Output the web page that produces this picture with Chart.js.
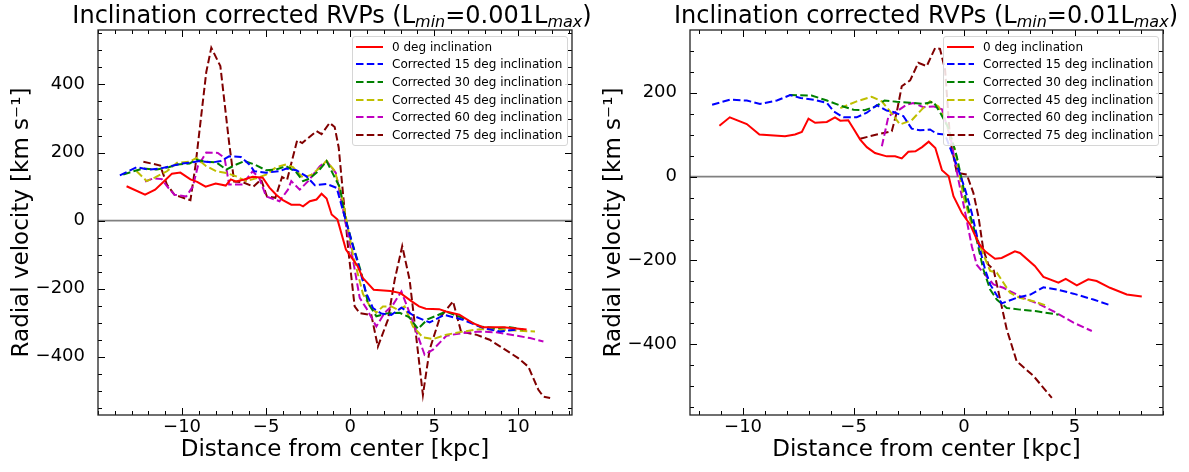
<!DOCTYPE html>
<html>
<head>
<meta charset="utf-8">
<script src="https://cdn.jsdelivr.net/npm/chart.js@4.4.1/dist/chart.umd.min.js"></script>
<style>
    body { margin: 0; width: 1189px; height: 472px; background: #fff; overflow: hidden; font-family: 'DejaVu Sans', sans-serif; color: #000; }
    .panel { position: absolute; top: 0; }
    .title { position: absolute; top: 1px; font-size: 24px; white-space: nowrap; transform: translateX(-50%); line-height: 28px; }
    .title sub { font-style: italic; font-size: 16px; vertical-align: -4px; line-height: 0; }
    .legend { position: absolute; top: 36px; border: 1px solid #d6d6d6; border-radius: 3px; background: rgba(255,255,255,0.85); padding: 1px 5px 1px 3px; font-size: 12px; }
    .legend .row { display: flex; align-items: center; height: 17.6px; white-space: nowrap; }
    .legend svg { margin-right: 9px; flex: none; }
</style>
</head>
<body>
<div class="panel" style="left:0; width:590px; height:472px;"><canvas id="leftChart" width="590" height="472"></canvas></div>
<div class="panel" style="left:592px; width:597px; height:472px;"><canvas id="rightChart" width="597" height="472"></canvas></div>
<div class="title" style="left:332px;">Inclination corrected RVPs (L<sub>min</sub>=0.001L<sub>max</sub>)</div>
<div class="title" style="left:926px;">Inclination corrected RVPs (L<sub>min</sub>=0.01L<sub>max</sub>)</div>
<div class="legend" id="leftLegend" style="left:352px;"></div>
<div class="legend" id="rightLegend" style="left:943px;"></div>

<script>
// Series labels and colours (same for both panels)
const seriesLabels = ['0 deg inclination', 'Corrected 15 deg inclination', 'Corrected 30 deg inclination',
    'Corrected 45 deg inclination', 'Corrected 60 deg inclination', 'Corrected 75 deg inclination'];
const seriesColors = ['#ff0000', '#0000ff', '#008000', '#bfbf00', '#bf00bf', '#800000'];
const seriesDashed = [false, true, true, true, true, true];

// Left panel (Lmin = 0.001 Lmax): [distance kpc, velocity km/s]
const left00 = [[-13.3,101],[-12.2,76],[-11.6,91],[-11.1,114],[-10.6,138],[-10.1,141],[-9.5,121],[-9.1,114],[-8.6,100],[-8.0,109],[-7.4,103],[-7.1,121],[-6.8,115],[-6.3,121],[-5.8,129],[-5.2,126],[-4.8,97],[-4.4,76],[-4.0,60],[-3.5,47],[-3.0,47],[-2.8,42],[-2.4,57],[-2.0,62],[-1.7,79],[-1.4,65],[-1.1,18],[-0.75,3],[-0.25,-85],[0.45,-134],[0.75,-168],[1.4,-203],[2.4,-207],[3.0,-213],[3.6,-235],[4.1,-252],[4.5,-259],[5.3,-260],[5.7,-267],[6.5,-276],[7.3,-301],[7.9,-313],[9.1,-313],[10.5,-320]];
const left15 = [[-13.7,133],[-12.7,157],[-12.0,150],[-11.3,153],[-10.7,160],[-10.1,167],[-9.55,170],[-8.96,175],[-8.2,171],[-7.7,175],[-7.2,189],[-6.5,187],[-6.0,165],[-5.7,145],[-5.0,141],[-4.2,145],[-3.8,153],[-3.2,148],[-2.6,130],[-2.1,104],[-1.4,108],[-0.8,96],[-0.33,13],[0.17,-75],[0.57,-144],[0.96,-213],[1.36,-257],[1.86,-273],[2.45,-277],[3.05,-256],[3.84,-281],[4.73,-299],[5.6,-277],[6.7,-291],[7.9,-315],[8.9,-326],[9.9,-320]];
const left30 = [[-13.5,135],[-12.9,145],[-12.3,153],[-11.5,150],[-10.8,157],[-10.25,165],[-9.55,168],[-9.15,179],[-8.56,173],[-7.96,171],[-7.37,150],[-6.77,165],[-6.28,175],[-5.7,165],[-5.0,148],[-4.4,150],[-3.8,160],[-3.2,142],[-2.8,116],[-2.4,124],[-1.9,145],[-1.4,175],[-1.0,135],[-0.6,97],[-0.35,20],[0.07,-56],[0.67,-154],[1.06,-242],[1.56,-281],[2.15,-273],[2.95,-271],[3.5,-283],[4.04,-318],[4.6,-290],[5.2,-278],[5.7,-267],[6.7,-286],[7.7,-311],[8.7,-316],[9.5,-313],[10.3,-320]];
const left45 = [[-12.7,145],[-12.1,116],[-11.6,127],[-10.9,145],[-10.3,170],[-9.55,173],[-9.15,184],[-8.56,160],[-7.96,145],[-7.37,140],[-6.77,130],[-6.18,116],[-5.5,126],[-5.0,135],[-4.4,157],[-3.8,165],[-3.4,157],[-2.8,126],[-2.3,135],[-1.8,155],[-1.4,176],[-0.9,145],[-0.43,57],[0.17,-100],[0.76,-215],[1.16,-250],[1.56,-270],[1.95,-252],[2.45,-252],[2.85,-262],[3.24,-252],[3.74,-311],[4.33,-343],[4.93,-348],[5.73,-335],[6.71,-326],[7.7,-319],[8.7,-320],[9.9,-323],[11.0,-326]];
const left60 = [[-12.2,115],[-11.7,124],[-11.2,122],[-10.9,101],[-10.45,76],[-9.75,71],[-9.35,101],[-9.06,160],[-8.56,200],[-7.87,199],[-7.47,184],[-7.2,106],[-6.4,106],[-5.8,145],[-5.4,125],[-5.0,71],[-4.2,57],[-3.7,91],[-3.5,116],[-3.0,91],[-2.5,116],[-1.8,160],[-1.4,175],[-0.85,140],[-0.45,40],[0.17,-115],[0.57,-227],[0.96,-257],[1.56,-311],[2.05,-271],[2.55,-247],[3.05,-208],[3.54,-271],[4.04,-340],[4.43,-394],[4.93,-379],[5.73,-338],[6.71,-330],[7.7,-326],[8.7,-328],[9.9,-338],[10.7,-345],[11.5,-355]];
const left75 = [[-12.3,173],[-11.3,162],[-10.9,106],[-10.45,76],[-10.05,69],[-9.5,60],[-9.2,162],[-8.56,436],[-8.26,508],[-7.72,454],[-7.2,229],[-6.9,115],[-6.4,113],[-5.75,100],[-5.3,121],[-4.95,71],[-4.45,67],[-4.05,128],[-3.75,120],[-3.15,236],[-2.85,228],[-2.0,263],[-1.7,254],[-1.22,287],[-0.92,275],[-0.68,215],[-0.33,30],[-0.1,-90],[0.27,-252],[0.57,-272],[1.26,-277],[1.65,-370],[2.25,-291],[2.65,-174],[3.1,-75],[3.54,-174],[4.33,-512],[4.73,-379],[5.33,-286],[6.12,-237],[6.6,-326],[7.5,-335],[8.3,-350],[9.1,-375],[10.0,-404],[10.6,-429],[11.2,-497],[11.5,-517],[11.9,-521]];

// Right panel (Lmin = 0.01 Lmax)
const right00 = [[-11.07,121],[-10.6,141],[-9.83,125],[-9.26,100],[-8.1,96],[-7.65,100],[-7.34,106],[-7.04,138],[-6.74,128],[-6.21,130],[-5.84,141],[-5.6,133],[-5.24,134],[-5.0,114],[-4.7,88],[-4.4,70],[-4.03,56],[-3.5,48],[-3.12,48],[-2.82,43],[-2.52,59],[-2.2,60],[-1.9,70],[-1.6,83],[-1.3,68],[-1.0,15],[-0.7,1],[-0.48,-47],[-0.1,-87],[0.27,-114],[0.65,-158],[0.95,-178],[1.4,-196],[1.7,-194],[2.3,-178],[2.53,-182],[3.2,-213],[3.59,-239],[4.27,-253],[4.6,-244],[5.1,-259],[5.62,-245],[6.0,-249],[6.6,-265],[7.36,-281],[8.04,-286]];
const right15 = [[-11.4,171],[-10.6,183],[-9.83,181],[-9.23,173],[-8.47,181],[-7.87,194],[-7.4,187],[-6.8,183],[-6.2,175],[-5.9,155],[-5.46,141],[-4.86,141],[-4.4,152],[-3.95,170],[-3.5,157],[-3.2,154],[-2.75,144],[-2.37,114],[-2.0,110],[-1.54,112],[-1.24,102],[-0.86,100],[-0.26,17],[0.05,-31],[0.35,-87],[0.72,-174],[0.95,-221],[1.18,-257],[1.7,-302],[2.38,-289],[3.0,-281],[3.59,-264],[4.19,-269],[4.95,-279],[5.85,-293],[6.53,-305]];
const right30 = [[-7.9,194],[-6.9,193],[-6.2,181],[-5.6,169],[-5.0,159],[-4.5,158],[-4.0,167],[-3.6,181],[-3.05,178],[-2.44,176],[-1.88,173],[-1.39,178],[-1.09,153],[-0.71,116],[-0.33,48],[0.12,-63],[0.5,-134],[0.87,-221],[1.18,-269],[1.48,-293],[1.93,-313],[2.53,-317],[3.29,-321],[4.27,-329]];
const right45 = [[-5.6,163],[-4.86,179],[-4.18,190],[-3.72,179],[-3.35,155],[-2.9,124],[-2.37,134],[-1.91,160],[-1.54,179],[-1.16,167],[-0.78,124],[-0.41,64],[-0.03,-47],[0.27,-102],[0.72,-166],[1.18,-225],[1.48,-229],[2.08,-277],[2.53,-289],[3.14,-297],[3.81,-309]];
const right60 = [[-3.72,72],[-3.42,144],[-3.05,155],[-2.6,171],[-2.3,175],[-1.84,165],[-1.39,167],[-1.0,160],[-0.6,90],[-0.26,-7],[0.05,-86],[0.35,-166],[0.57,-210],[0.87,-229],[1.33,-257],[1.78,-265],[2.68,-289],[3.44,-305],[4.19,-325],[4.95,-348],[5.78,-368]];
const right75 = [[-4.7,90],[-3.95,100],[-3.27,108],[-3.05,152],[-2.82,215],[-2.44,229],[-2.07,271],[-1.69,263],[-1.31,306],[-1.09,304],[-0.86,255],[-0.63,88],[-0.33,9],[0.12,5],[0.42,-39],[0.65,-95],[0.87,-174],[1.1,-210],[1.33,-221],[1.55,-273],[1.93,-364],[2.38,-440],[3.14,-475],[3.97,-527]];

// Axis ranges and tick labels
const leftXRange = [-15.0, 13.2];
const leftYRange = [-571, 560];
const leftXTicks = [-10, -5, 0, 5, 10];
const leftYTicks = [-400, -200, 0, 200, 400];
const rightXRange = [-12.4, 9.0];
const rightYRange = [-568, 349];
const rightXTicks = [-10, -5, 0, 5];
const rightYTicks = [-400, -200, 0, 200];

const xTitle = 'Distance from center [kpc]';
const yTitle = 'Radial velocity [km s\u207B\u00B9]';

document.addEventListener('DOMContentLoaded', () => {
    buildLegend('leftLegend');
    buildLegend('rightLegend');

    makeChart('leftChart', [left00, left15, left30, left45, left60, left75],
        leftXRange, leftYRange, leftXTicks, leftYTicks, 18);
    makeChart('rightChart', [right00, right15, right30, right45, right60, right75],
        rightXRange, rightYRange, rightXTicks, rightYTicks, 26);
});

function formatTick(v) {
    return v < 0 ? '\u2212' + Math.abs(v) : String(v);
}

function buildLegend(id) {
    const box = document.getElementById(id);
    seriesLabels.forEach((label, i) => {
        const row = document.createElement('div');
        row.className = 'row';
        const dash = seriesDashed[i] ? 'stroke-dasharray="7.5 3.3"' : '';
        row.innerHTML = `<svg width="27" height="6"><line x1="0" y1="3" x2="27" y2="3" stroke="${seriesColors[i]}" stroke-width="2" ${dash}/></svg><span>${label}</span>`;
        box.appendChild(row);
    });
}

// zero line, frame and inward ticks on all four sides
const axesFrame = {
    id: 'axesFrame',
    beforeDatasetsDraw(chart) {
        const { ctx, chartArea: a, scales: { y } } = chart;
        const y0 = y.getPixelForValue(0);
        ctx.save();
        ctx.strokeStyle = '#808080';
        ctx.lineWidth = 1.8;
        ctx.beginPath();
        ctx.moveTo(a.left, y0);
        ctx.lineTo(a.right, y0);
        ctx.stroke();
        ctx.restore();
    },
    afterDatasetsDraw(chart, args, opts) {
        const { ctx, chartArea: a, scales: { x, y } } = chart;
        ctx.save();
        ctx.strokeStyle = '#000';
        ctx.lineWidth = 1;
        ctx.beginPath();

        const minorVals = (scale, step) => {
            const out = [];
            for (let v = Math.ceil(scale.min / step) * step; v <= scale.max; v += step) out.push(v);
            return out;
        };
        const majorX = x.ticks.map(t => t.value);
        const majorY = y.ticks.map(t => t.value);

        minorVals(x, opts.xMinor).forEach(v => {
            const len = majorX.includes(v) ? 7 : 4;
            const px = Math.round(x.getPixelForValue(v)) + 0.5;
            ctx.moveTo(px, a.bottom); ctx.lineTo(px, a.bottom - len);
            ctx.moveTo(px, a.top); ctx.lineTo(px, a.top + len);
        });
        minorVals(y, opts.yMinor).forEach(v => {
            const len = majorY.includes(v) ? 7 : 4;
            const py = Math.round(y.getPixelForValue(v)) + 0.5;
            ctx.moveTo(a.left, py); ctx.lineTo(a.left + len, py);
            ctx.moveTo(a.right, py); ctx.lineTo(a.right - len, py);
        });
        ctx.stroke();

        ctx.strokeStyle = '#222';
        ctx.lineWidth = 1.3;
        ctx.strokeRect(a.left, a.top, a.right - a.left, a.bottom - a.top);
        ctx.restore();
    }
};

function makeChart(canvasId, series, xRange, yRange, xTicks, yTicks, padRight) {
    const ctx = document.getElementById(canvasId).getContext('2d');
    const datasets = series.map((pts, i) => ({
        label: seriesLabels[i],
        data: pts.map(([x, y]) => ({ x, y })),
        showLine: true,
        borderColor: seriesColors[i],
        borderWidth: 2,
        borderDash: seriesDashed[i] ? [7.5, 3.3] : [],
        pointRadius: 0,
        tension: 0,
        fill: false
    }));

    const tickFont = { family: 'DejaVu Sans', size: 18 };
    const titleFont = { family: 'DejaVu Sans', size: 23 };

    return new Chart(ctx, {
        type: 'scatter',
        data: { datasets },
        options: {
            responsive: false,
            animation: false,
            devicePixelRatio: 1,
            layout: { padding: { top: 30, right: padRight, left: 0, bottom: 0 } },
            plugins: {
                legend: { display: false },
                tooltip: { enabled: false },
                axesFrame: { xMinor: 1, yMinor: 50 }
            },
            scales: {
                x: {
                    type: 'linear',
                    min: xRange[0],
                    max: xRange[1],
                    afterBuildTicks: s => { s.ticks = xTicks.map(v => ({ value: v })); },
                    afterFit: s => { s.height = 57; },
                    grid: { display: false, drawTicks: false },
                    border: { display: false },
                    ticks: { color: '#000', font: tickFont, padding: 2, maxRotation: 0, autoSkip: false, callback: formatTick },
                    title: { display: true, text: xTitle, color: '#000', font: titleFont, padding: { top: 0, bottom: 8 } }
                },
                y: {
                    type: 'linear',
                    min: yRange[0],
                    max: yRange[1],
                    afterBuildTicks: s => { s.ticks = yTicks.map(v => ({ value: v })); },
                    afterFit: s => { s.width = 98; },
                    grid: { display: false, drawTicks: false },
                    border: { display: false },
                    ticks: { color: '#000', font: tickFont, padding: 13, autoSkip: false, callback: formatTick },
                    title: { display: true, text: yTitle, color: '#000', font: titleFont, padding: { top: 8, bottom: 0 } }
                }
            }
        },
        plugins: [axesFrame]
    });
}
</script>
</body>
</html>
